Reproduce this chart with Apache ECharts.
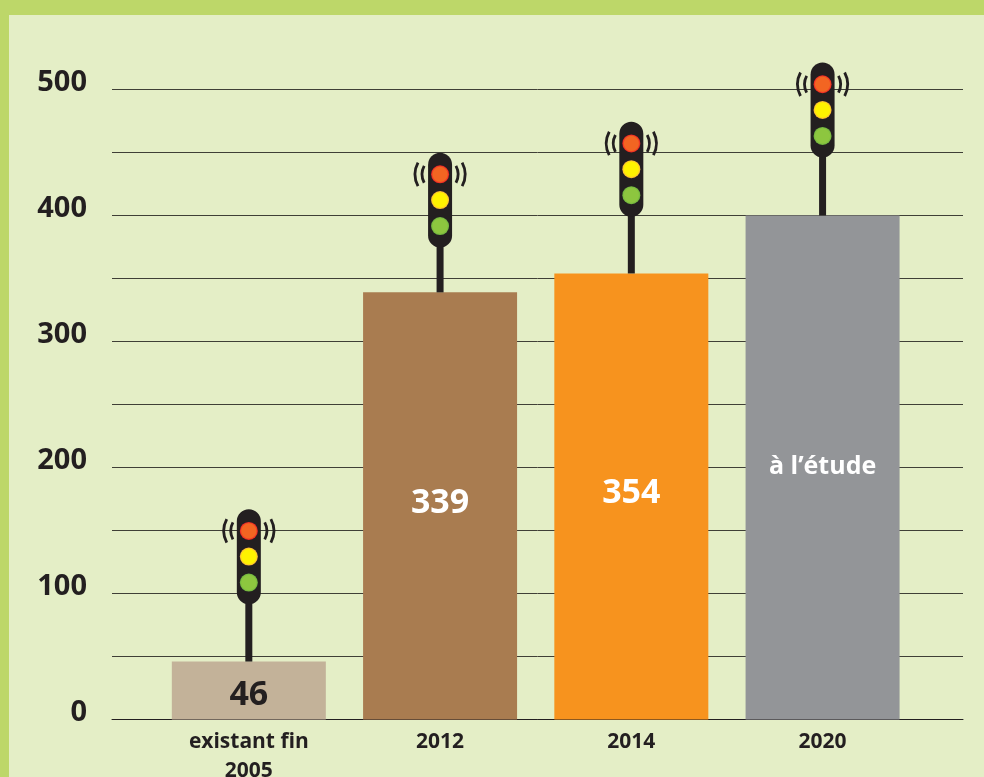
<!DOCTYPE html>
<html><head><meta charset="utf-8">
<style>html,body{margin:0;padding:0;background:#bdd769}#c{width:984px;height:777px}</style>
<script src="https://cdn.jsdelivr.net/npm/echarts@6/dist/echarts.min.js"></script>
</head><body><div id="c"></div>
<script>
const categories = ['existant fin\n2005', '2012', '2014', '2020'];
const barValues = [46, 339, 354, 400];
const barLabels = ['46', '339', '354', 'à l’étude'];
const barColors = ['#c3b299', '#a97c50', '#f7931e', '#939598'];
const signalBase = [91.5, 374.5, 399, 446];
const yTickLabels = { 0: '0', 100: '100', 200: '200', 300: '300', 400: '400', 500: '500' };

const FONT = '"Open Sans", "Noto Sans", sans-serif';
const INK = '#231f20';
const labelStyles = [
  { color: INK, fontSize: 34, offset: [0, 5] },
  { color: '#fff', fontSize: 34, offset: [0, -3] },
  { color: '#fff', fontSize: 34, offset: [0, -3] },
  { color: '#fff', fontSize: 25, offset: [0, -1] }
];
function lamp(cx, cy, inner, edge) {
  return { type: 'circle', shape: { cx, cy, r: 9 }, style: {
    fill: { type: 'radial', x: .5, y: .5, r: .5, colorStops: [
      { offset: 0, color: inner }, { offset: .78, color: inner }, { offset: 1, color: edge }] } } };
}
function arc(cx, cy, r, mid, half, w) {
  return { type: 'arc', shape: { cx, cy, r, startAngle: mid - half, endAngle: mid + half, clockwise: true },
    style: { fill: null, stroke: INK, lineWidth: w, lineCap: 'butt' } };
}
function renderSignal(params, api) {
  const base = api.coord([api.value(0), api.value(1)]);
  const foot = api.coord([api.value(0), barValues[params.dataIndex]]);
  const x = base[0], b = base[1], t = b - 95, ry = t + 21.7;
  const rad = 28 * Math.PI / 180;
  return { type: 'group', children: [
    { type: 'rect', shape: { x: x - 3.5, y: b - 2, width: 7, height: foot[1] - b + 2 }, style: { fill: INK } },
    { type: 'rect', shape: { x: x - 12, y: t, width: 24, height: 95, r: 12 }, style: { fill: INK } },
    lamp(x, ry, '#f26522', '#ed1c24'),
    lamp(x, ry + 25.7, '#fff200', '#fbb040'),
    lamp(x, ry + 51.7, '#8dc63f', '#6db33f'),
    arc(x, ry, 18, Math.PI, rad, 2.8), arc(x, ry, 25, Math.PI, rad, 2.8),
    arc(x, ry, 18, 0, rad, 2.8), arc(x, ry, 25, 0, rad, 2.8)
  ] };
}
const chart = echarts.init(document.getElementById('c'), null, { renderer: 'canvas' });
chart.setOption({
  animation: false,
  backgroundColor: '#bdd769',
  textStyle: { fontFamily: FONT },
  graphic: [{ type: 'rect', z: -10, silent: true, shape: { x: 9, y: 15, width: 975, height: 762 }, style: { fill: '#e4eec6' } }],
  grid: [
    { left: 112, width: 851, top: 89.5, height: 630, outerBoundsMode: 'none' },
    { left: 153.2, width: 765, top: 89.5, height: 630, outerBoundsMode: 'none' }
  ],
  xAxis: [
    { gridIndex: 0, type: 'category', data: categories, axisTick: { show: false }, axisLabel: { show: false },
      axisLine: { show: true, lineStyle: { color: INK, width: 1 } } },
    { gridIndex: 1, type: 'category', data: categories, axisTick: { show: false },
      axisLine: { show: false },
      axisLabel: { color: INK, fontWeight: 'bold', fontSize: 21, lineHeight: 29, margin: 8, interval: 0, fontFamily: FONT } }
  ],
  yAxis: [
    { gridIndex: 0, type: 'value', min: 0, max: 500, interval: 50,
      axisLine: { show: false }, axisTick: { show: false },
      splitLine: { show: true, lineStyle: { color: '#3f3f36', width: 1 } },
      axisLabel: { color: INK, fontWeight: 'bold', fontSize: 29, margin: 25, lineHeight: 14, verticalAlign: 'bottom',
        fontFamily: FONT, formatter: v => yTickLabels[v] || '' } },
    { gridIndex: 1, type: 'value', min: 0, max: 500, show: false, splitLine: { show: false } }
  ],
  series: [
    { type: 'bar', xAxisIndex: 1, yAxisIndex: 1, barWidth: 154, z: 3,
      data: barValues.map((v, i) => ({
        value: v,
        itemStyle: { color: barColors[i] },
        label: { show: true, position: 'inside', formatter: barLabels[i], fontWeight: 'bold',
          fontFamily: FONT, color: labelStyles[i].color, fontSize: labelStyles[i].fontSize, offset: labelStyles[i].offset }
      })) },
    { type: 'custom', xAxisIndex: 1, yAxisIndex: 1, z: 4, renderItem: renderSignal, clip: false,
      encode: { x: 0, y: 1 }, data: signalBase.map((v, i) => [i, v]) }
  ]
});
</script></body></html>
